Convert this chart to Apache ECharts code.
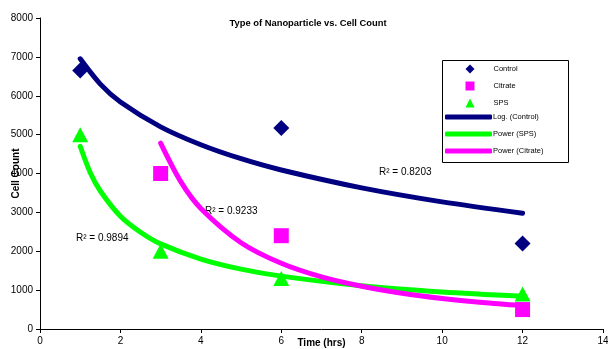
<!DOCTYPE html>
<html><head><meta charset="utf-8">
<script src="https://cdn.jsdelivr.net/npm/echarts@6/dist/echarts.min.js"></script>
<style>html,body{margin:0;padding:0;background:#fff}#c{width:608px;height:349px}</style>
</head><body><div id="c"></div>
<script>
// Measured data points
const controlTime = [1, 6, 12];
const controlCells = [6650, 5170, 2200];
const citrateTime = [3, 6, 12];
const citrateCells = [4000, 2400, 500];
const spsTime = [1, 3, 6, 12];
const spsCells = [5000, 2000, 1300, 900];
// Trendlines, values
const logControlX = [1, 1.5, 2, 3, 4, 5, 6, 8, 10, 12];
const logControlY = [6950, 6300, 5840, 5200, 4740, 4380, 4090, 3630, 3270, 2980];
const powerSpsX = [1, 1.25, 1.5, 2, 2.5, 3, 4, 5, 6, 8, 10, 12];
const powerSpsY = [4700, 4020, 3550, 2900, 2490, 2190, 1800, 1540, 1360, 1110, 950, 840];
const powerCitrateX = [3, 3.5, 4, 5, 6, 7, 8, 9, 10, 11, 12];
const powerCitrateY = [4780, 3790, 3100, 2220, 1690, 1340, 1100, 920, 785, 680, 600];
const r2Labels = ['R² = 0.8203', 'R² = 0.9233', 'R² = 0.9894'];

const zip = (a, b) => a.map((v, i) => [v, b[i]]);
const FONT = 'Liberation Sans, Arial, sans-serif';
const chart = echarts.init(document.getElementById('c'), null, {renderer: 'canvas'});
const txt = {fontFamily: FONT, fontSize: 7.5, color: '#000', lineHeight: 10};

chart.setOption({
  animation: false,
  backgroundColor: '#fff',
  title: {
    text: 'Type of Nanoparticle vs. Cell Count',
    left: 308, top: 19, textAlign: 'center', padding: 0,
    textStyle: {fontFamily: FONT, fontSize: 9.4, fontWeight: 'bold', color: '#000'}
  },
  grid: {left: 40, right: 5, top: 18, bottom: 20, containLabel: false, outerBoundsMode: 'none'},
  xAxis: {
    type: 'value', min: 0, max: 14, interval: 2,
    name: 'Time (hrs)', nameLocation: 'middle', nameGap: 9, nameMoveOverlap: false,
    nameTextStyle: {fontFamily: FONT, fontSize: 10, fontWeight: 'bold', color: '#000'},
    axisLine: {lineStyle: {color: '#000', width: 1}},
    axisTick: {show: true, length: 4, lineStyle: {color: '#000'}},
    axisLabel: {fontFamily: FONT, fontSize: 10, color: '#000', margin: 7, formatter: v => String(v)},
    splitLine: {show: false}
  },
  yAxis: {
    type: 'value', min: 0, max: 8000, interval: 1000,
    name: 'Cell Count', nameLocation: 'middle', nameGap: 19, nameRotate: 90, nameMoveOverlap: false,
    nameTextStyle: {fontFamily: FONT, fontSize: 10, fontWeight: 'bold', color: '#000'},
    axisLine: {show: true, lineStyle: {color: '#000', width: 1}},
    axisTick: {show: true, length: 4, lineStyle: {color: '#000'}},
    axisLabel: {fontFamily: FONT, fontSize: 10, color: '#000', margin: 7, formatter: v => String(v)},
    splitLine: {show: false}
  },
  legend: [
    {
      data: ['Control', 'Citrate', 'SPS'],
      orient: 'vertical', left: 465.5, top: 64, padding: 0,
      itemWidth: 9, itemHeight: 9, itemGap: 7,
      textStyle: Object.assign({}, txt, {padding: [0, 0, 0, 14]})
    },
    {
      data: ['Log. (Control)', 'Power (SPS)', 'Power (Citrate)'],
      orient: 'vertical', left: 445, top: 112, padding: 0,
      itemWidth: 47, itemHeight: 5, itemGap: 7, icon: 'roundRect',
      textStyle: Object.assign({}, txt, {padding: [0, 0, 0, -4]})
    }
  ],
  graphic: [
    {type: 'rect', shape: {x: 442.5, y: 60.5, width: 126, height: 102},
     style: {fill: 'none', stroke: '#000', lineWidth: 1}, z: 0},
    {type: 'text', left: 379, top: 167, style: {text: r2Labels[0], font: '10px ' + FONT, fill: '#000'}},
    {type: 'text', left: 205, top: 206, style: {text: r2Labels[1], font: '10px ' + FONT, fill: '#000'}},
    {type: 'text', left: 76, top: 233, style: {text: r2Labels[2], font: '10px ' + FONT, fill: '#000'}}
  ],
  series: [
    {name: 'Control', type: 'scatter', symbol: 'diamond', symbolSize: 16,
     itemStyle: {color: '#000080', opacity: 1}, data: zip(controlTime, controlCells), z: 3},
    {name: 'Citrate', type: 'scatter', symbol: 'rect', symbolSize: 15,
     itemStyle: {color: '#FF00FF', opacity: 1}, data: zip(citrateTime, citrateCells), z: 3},
    {name: 'SPS', type: 'scatter', symbol: 'triangle', symbolSize: [16, 15],
     itemStyle: {color: '#00FF00', opacity: 1}, data: zip(spsTime, spsCells), z: 3},
    {name: 'Log. (Control)', type: 'line', smooth: 0.3, showSymbol: false,
     lineStyle: {color: '#000080', width: 5, cap: 'round'}, itemStyle: {color: '#000080'},
     data: zip(logControlX, logControlY), z: 4},
    {name: 'Power (SPS)', type: 'line', smooth: 0.3, showSymbol: false,
     lineStyle: {color: '#00FF00', width: 5, cap: 'round'}, itemStyle: {color: '#00FF00'},
     data: zip(powerSpsX, powerSpsY), z: 4},
    {name: 'Power (Citrate)', type: 'line', smooth: 0.3, showSymbol: false,
     lineStyle: {color: '#FF00FF', width: 5, cap: 'round'}, itemStyle: {color: '#FF00FF'},
     data: zip(powerCitrateX, powerCitrateY), z: 4}
  ]
});
</script></body></html>
